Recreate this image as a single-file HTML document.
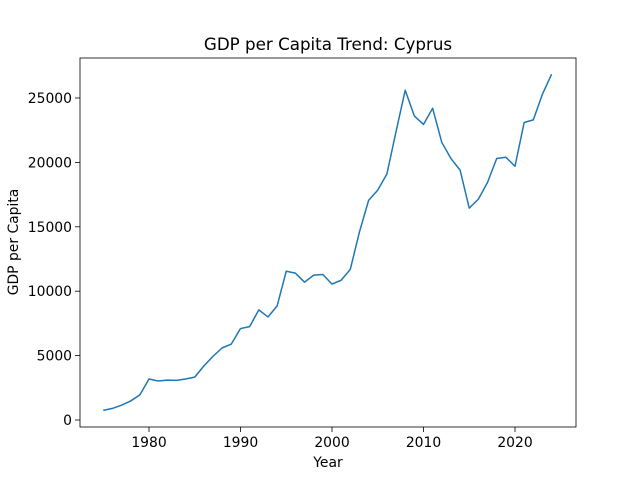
<!DOCTYPE html>
<html><head><meta charset="utf-8"><style>
body{margin:0;background:#fff;}
svg text{font-family:"DejaVu Sans","Liberation Sans",sans-serif;fill:#000;}
</style></head><body>
<svg id="chart" width="640" height="480" viewBox="0 0 640 480" xmlns="http://www.w3.org/2000/svg">
<rect width="640" height="480" fill="#fff"/>
<text x="328" y="50" font-size="16.7" text-anchor="middle">GDP per Capita Trend: Cyprus</text>
<g id="axes"></g>
<rect x="80" y="58" width="496" height="369" fill="none" stroke="#000" stroke-width="0.8"/>
<text x="328" y="467" font-size="13.9" text-anchor="middle">Year</text>
<text transform="translate(18,242) rotate(-90)" font-size="13.9" text-anchor="middle">GDP per Capita</text>
</svg>
<script>
const years = [];
for (let y = 1975; y <= 2024; y++) years.push(y);
const gdp = [750,900,1150,1480,1950,3180,3030,3100,3080,3180,3330,4200,4950,5600,5900,7100,7250,8550,8000,8850,11550,11400,10700,11250,11300,10550,10850,11700,14600,17050,17850,19100,22400,25600,23600,22950,24200,21550,20300,19400,16450,17150,18450,20300,20400,19700,23100,23300,25300,26850];
const xTicks = [1980,1990,2000,2010,2020];
const yTicks = [0,5000,10000,15000,20000,25000];

function xs(v){ return 149 + (v - 1980) * (515 - 149) / 40; }
function ys(v){ return 420 - v * (420 - 98) / 25000; }

const NS = "http://www.w3.org/2000/svg";
const g = document.getElementById('axes');
xTicks.forEach(t => {
  const l = document.createElementNS(NS,'line');
  
  
  l.setAttribute('x1',xs(t)); l.setAttribute('x2',xs(t));
  l.setAttribute('y1',427); l.setAttribute('y2',432);
  l.setAttribute('stroke','#000'); l.setAttribute('stroke-width','0.8');
  g.appendChild(l);
  const tx = document.createElementNS(NS,'text');
  
  
  tx.setAttribute('x',xs(t)); tx.setAttribute('y',447);
  tx.setAttribute('font-size','13.9'); tx.setAttribute('text-anchor','middle');
  tx.textContent = t;
  g.appendChild(tx);
});
yTicks.forEach(t => {
  const l = document.createElementNS(NS,'line');
  
  
  l.setAttribute('x1',75); l.setAttribute('x2',80);
  l.setAttribute('y1',ys(t)); l.setAttribute('y2',ys(t));
  l.setAttribute('stroke','#000'); l.setAttribute('stroke-width','0.8');
  g.appendChild(l);
  const tx = document.createElementNS(NS,'text');
  
  
  tx.setAttribute('x',72); tx.setAttribute('y',ys(t)+5);
  tx.setAttribute('font-size','13.9'); tx.setAttribute('text-anchor','end');
  tx.textContent = t;
  g.appendChild(tx);
});
const p = document.createElementNS(NS,'polyline');


p.setAttribute('points', years.map((y,i)=>xs(y)+','+ys(gdp[i])).join(' '));
p.setAttribute('fill','none'); p.setAttribute('stroke','#1f77b4');
p.setAttribute('stroke-width','1.5'); p.setAttribute('stroke-linejoin','round');
g.appendChild(p);
</script>
</body></html>
